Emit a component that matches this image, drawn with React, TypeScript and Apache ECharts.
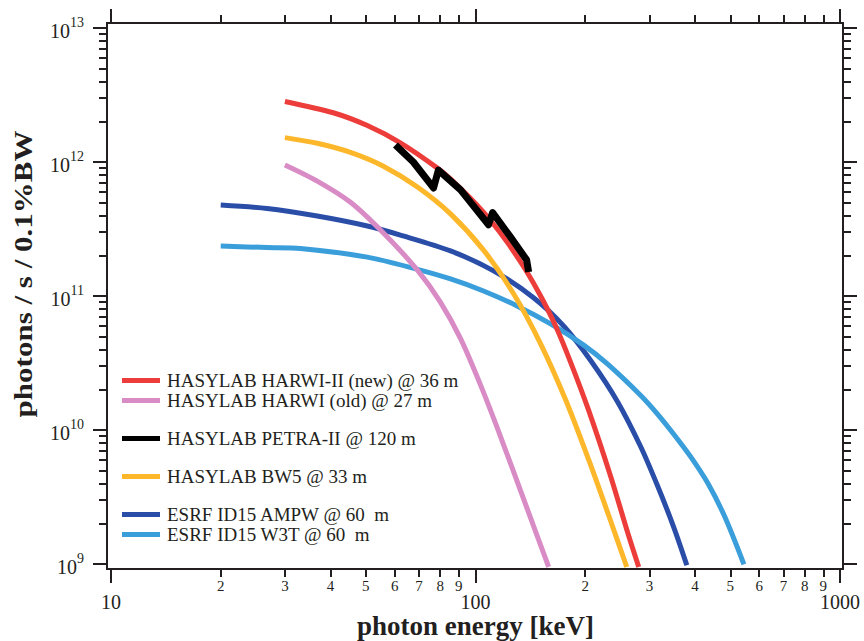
import React, { useEffect, useRef } from "react";
import * as echarts from "echarts";

// ---- data (photon energy in keV, flux in photons / s / 0.1%BW) ----
const seriesNames = [
  "HASYLAB HARWI-II (new) @ 36 m",
  "HASYLAB HARWI (old) @ 27 m",
  "HASYLAB PETRA-II @ 120 m",
  "HASYLAB BW5 @ 33 m",
  "ESRF ID15 AMPW @ 60  m",
  "ESRF ID15 W3T @ 60  m",
];

const harwiNewEnergy = [30, 40.7, 50.5, 62.2, 78.6, 88.1, 100, 110, 122.4, 137.2, 150.9, 165.9, 182.4, 204.4, 234.9, 261.6, 280.4];
const harwiNewFlux = [2.83e12, 2.33e12, 1.87e12, 1.39e12, 9.0e11, 6.9e11, 4.9e11, 3.66e11, 2.5e11, 1.57e11, 1.0e11, 5.97e10, 3.2e10, 1.4e10, 4.5e9, 1.71e9, 9.5e8];

const harwiOldEnergy = [30, 36.8, 45.4, 55.9, 69.3, 80.1, 91.0, 103.2, 117.2, 139, 158.7];
const harwiOldFlux = [9.5e11, 7.2e11, 5.0e11, 2.95e11, 1.56e11, 9.0e10, 4.8e10, 2.17e10, 8.9e9, 2.53e9, 9.5e8];

const petraEnergy = [60.3, 67.5, 76.7, 79.1, 91.0, 108.6, 111.4, 124.8, 138.1, 139.9];
const petraFlux = [1.34e12, 1.0e12, 6.4e11, 8.7e11, 6.2e11, 3.4e11, 4.2e11, 2.75e11, 1.86e11, 1.51e11];

const bw5Energy = [30, 36.8, 45.4, 55.9, 69.3, 85.4, 105.2, 127.2, 150.9, 176.7, 204.4, 232, 260];
const bw5Flux = [1.52e12, 1.38e12, 1.18e12, 9.3e11, 6.5e11, 4.1e11, 2.2e11, 1.04e11, 4.4e10, 1.68e10, 6.0e9, 2.3e9, 9.5e8];

const ampwEnergy = [20, 26.8, 36.8, 50.5, 62.2, 85.4, 112.1, 144.3, 174.5, 207, 245.5, 284, 316.2, 349.9, 380];
const ampwFlux = [4.78e11, 4.5e11, 3.95e11, 3.33e11, 2.85e11, 2.17e11, 1.54e11, 9.7e10, 5.97e10, 3.3e10, 1.62e10, 7.5e9, 3.8e9, 1.88e9, 9.8e8];

const w3tEnergy = [20, 26.8, 33.1, 50.5, 69.3, 85.4, 105.2, 130.4, 160.7, 198.1, 230.5, 284, 316.2, 349.9, 389.6, 434, 483, 544.9];
const w3tFlux = [2.36e11, 2.3e11, 2.26e11, 1.95e11, 1.58e11, 1.34e11, 1.09e11, 8.4e10, 6.2e10, 4.3e10, 3.1e10, 1.81e10, 1.31e10, 9.3e9, 6.3e9, 4.0e9, 2.25e9, 9.95e8];

// ---- axes ----
const xRange = [10, 1000];
const yRange = [1e9, 1e13];
const xMinorTicks = [20, 30, 40, 50, 60, 70, 80, 90, 200, 300, 400, 500, 600, 700, 800, 900];
const yMinorTicks = [
  2e9, 3e9, 4e9, 5e9, 6e9, 7e9, 8e9, 9e9,
  2e10, 3e10, 4e10, 5e10, 6e10, 7e10, 8e10, 9e10,
  2e11, 3e11, 4e11, 5e11, 6e11, 7e11, 8e11, 9e11,
  2e12, 3e12, 4e12, 5e12, 6e12, 7e12, 8e12, 9e12,
];
const xTitle = "photon energy [keV]";
const yTitle = "photons / s / 0.1%BW";

const colors = ["#ec3d3a", "#d98bc6", "#000000", "#fdb72a", "#2a4ea8", "#3a9edb"];

const FONT = "'Liberation Serif', 'Times New Roman', Times, serif";
const INK = "#231f20";

const pairs = (xs: number[], ys: number[]) => xs.map((x, i) => [x, ys[i]]);

export default function App() {
  const ref = useRef<HTMLDivElement>(null);

  useEffect(() => {
    document.body.style.margin = "0";
    if (!ref.current) return;
    const chart = echarts.init(ref.current, null, { renderer: "svg" });

    const mk = (idx: number, xs: number[], ys: number[], width: number, smooth: number | boolean) => ({
      name: seriesNames[idx],
      type: "line",
      data: pairs(xs, ys),
      xAxisIndex: 0,
      yAxisIndex: 0,
      showSymbol: false,
      symbol: "none",
      smooth,
      clip: false,
      silent: true,
      color: colors[idx],
      itemStyle: { color: colors[idx] },
      lineStyle: { color: colors[idx], width, cap: "butt", join: "round" },
    });

    const tickStyle = { color: INK, width: 2 };
    const minorX = xMinorTicks.map((v) => Math.log10(v));
    const minorY = yMinorTicks.map((v) => Math.log10(v));
    const lx = [Math.log10(xRange[0]), Math.log10(xRange[1])];
    const ly = [Math.log10(yRange[0]), Math.log10(yRange[1])];

    const legendTops = [381, 401, 439, 477, 515, 535];

    const option: any = {
      animation: false,
      backgroundColor: "#ffffff",
      grid: { left: 111, right: 24, top: 28, bottom: 77, containLabel: false, outerBoundsMode: "none" },
      xAxis: [
        {
          type: "log", logBase: 10, min: xRange[0], max: xRange[1], position: "bottom", offset: 5,
          axisLine: { show: false, onZero: false },
          axisTick: { show: true, length: 14, lineStyle: tickStyle },
          axisLabel: { show: true, margin: 25, fontSize: 20, lineHeight: 16, fontFamily: FONT, color: INK, formatter: (v: number) => String(Math.round(v)) },
          splitLine: { show: false },
          minorTick: { show: false },
        },
        {
          type: "value", min: lx[0], max: lx[1], position: "bottom", offset: 5,
          axisLine: { show: false, onZero: false },
          axisTick: { show: true, length: 8, lineStyle: tickStyle, customValues: minorX },
          axisLabel: {
            show: true, margin: 11, fontSize: 15, lineHeight: 12, fontFamily: FONT, color: INK, customValues: minorX,
            formatter: (v: number) => String(Math.round(Math.pow(10, v - Math.floor(v + 1e-9)))),
          },
          splitLine: { show: false },
        },
        {
          type: "log", logBase: 10, min: xRange[0], max: xRange[1], position: "top", offset: 5,
          axisLine: { show: false, onZero: false },
          axisTick: { show: true, length: 14, lineStyle: tickStyle },
          axisLabel: { show: false },
          splitLine: { show: false },
        },
        {
          type: "value", min: lx[0], max: lx[1], position: "top", offset: 5,
          axisLine: { show: false, onZero: false },
          axisTick: { show: true, length: 8, lineStyle: tickStyle, customValues: minorX },
          axisLabel: { show: false },
          splitLine: { show: false },
        },
      ],
      yAxis: [
        {
          type: "log", logBase: 10, min: yRange[0], max: yRange[1], position: "left", offset: 4,
          axisLine: { show: false, onZero: false },
          axisTick: { show: true, length: 14, lineStyle: tickStyle },
          axisLabel: {
            show: true, margin: 23,
            formatter: (v: number) => `{b|10}{s|${Math.round(Math.log10(v))}}`,
            rich: {
              b: { fontSize: 20, fontFamily: FONT, color: INK, verticalAlign: "bottom", lineHeight: 26 },
              s: { fontSize: 14, fontFamily: FONT, color: INK, verticalAlign: "top", lineHeight: 16 },
            },
          },
          splitLine: { show: false },
          minorTick: { show: false },
        },
        {
          type: "value", min: ly[0], max: ly[1], position: "left", offset: 4,
          axisLine: { show: false, onZero: false },
          axisTick: { show: true, length: 8, lineStyle: tickStyle, customValues: minorY },
          axisLabel: { show: false },
          splitLine: { show: false },
        },
        {
          type: "log", logBase: 10, min: yRange[0], max: yRange[1], position: "right", offset: 3,
          axisLine: { show: false, onZero: false },
          axisTick: { show: true, length: 14, lineStyle: tickStyle },
          axisLabel: { show: false },
          splitLine: { show: false },
        },
        {
          type: "value", min: ly[0], max: ly[1], position: "right", offset: 3,
          axisLine: { show: false, onZero: false },
          axisTick: { show: true, length: 8, lineStyle: tickStyle, customValues: minorY },
          axisLabel: { show: false },
          splitLine: { show: false },
        },
      ],
      legend: seriesNames.map((n, i) => ({
        data: [n],
        left: 122,
        top: legendTops[i] - 10,
        orient: "vertical",
        padding: 0,
        itemWidth: 38,
        itemHeight: 5,
        icon: "rect",
        selectedMode: false,
        textStyle: { fontSize: 19, fontFamily: FONT, color: INK, padding: [0, 0, 0, 2] },
      })),
      graphic: [
        {
          type: "rect", silent: true, z: 50,
          shape: { x: 107, y: 23, width: 736, height: 546 },
          style: { fill: "none", stroke: INK, lineWidth: 2 },
        },
        {
          type: "text", silent: true, x: 475.5, y: 626,
          style: {
            text: xTitle, fontSize: 27, fontWeight: "bold", fontFamily: FONT, fill: INK,
            align: "center", verticalAlign: "middle", textAlign: "center", textVerticalAlign: "middle",
          },
        },
        {
          type: "text", silent: true, x: 24, y: 274, rotation: Math.PI / 2, scaleX: 1.24,
          style: {
            text: yTitle, fontSize: 25, fontWeight: "bold", fontFamily: FONT, fill: INK,
            align: "center", verticalAlign: "middle", textAlign: "center", textVerticalAlign: "middle",
          },
        },
      ],
      series: [
        mk(4, ampwEnergy, ampwFlux, 5, 0.3),
        mk(5, w3tEnergy, w3tFlux, 5, 0.3),
        mk(1, harwiOldEnergy, harwiOldFlux, 5, 0.3),
        mk(3, bw5Energy, bw5Flux, 5, 0.3),
        mk(0, harwiNewEnergy, harwiNewFlux, 5, 0.3),
        mk(2, petraEnergy, petraFlux, 7, false),
      ],
    };

    chart.setOption(option);
    return () => chart.dispose();
  }, []);

  return <div ref={ref} style={{ width: 864, height: 641 }} />;
}
